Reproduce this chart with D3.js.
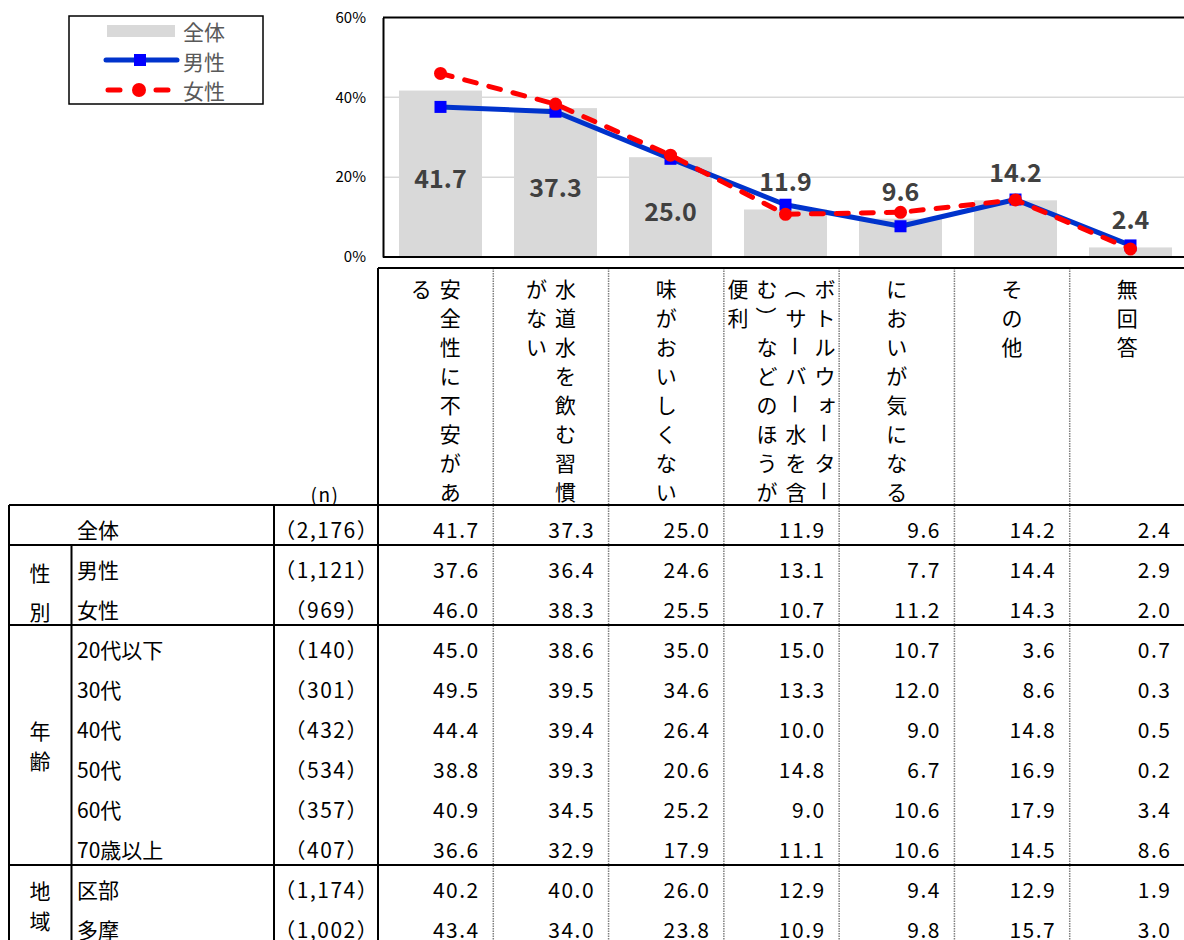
<!DOCTYPE html>
<html><head><meta charset="utf-8">
<script src="https://cdn.jsdelivr.net/npm/d3@7"></script>
<style>
html,body{margin:0;padding:0;background:#fff;}
svg{display:block;}
text{font-family:"Noto Sans CJK JP","Noto Sans",sans-serif;}
</style></head>
<body>
<svg id="chart" width="1184" height="940"></svg>
<script>
// ---------- data ----------
const categories = ["安全性に不安がある","水道水を飲む習慣がない","味がおいしくない","ボトルウォーター（サーバー水を含む）などのほうが便利","においが気になる","その他","無回答"];
const totalValues = [41.7,37.3,25.0,11.9,9.6,14.2,2.4];
const maleValues  = [37.6,36.4,24.6,13.1,7.7,14.4,2.9];
const femaleValues= [46.0,38.3,25.5,10.7,11.2,14.3,2.0];
const yTicks = [0,20,40,60];
const seriesNames = ["全体","男性","女性"];

const rowLabels = ["全体","男性","女性","20代以下","30代","40代","50代","60代","70歳以上","区部","多摩"];
const rowN = ["（2,176）","（1,121）","（969）","（140）","（301）","（432）","（534）","（357）","（407）","（1,174）","（1,002）"];
const tableValues = [
  [41.7,37.3,25.0,11.9,9.6,14.2,2.4],
  [37.6,36.4,24.6,13.1,7.7,14.4,2.9],
  [46.0,38.3,25.5,10.7,11.2,14.3,2.0],
  [45.0,38.6,35.0,15.0,10.7,3.6,0.7],
  [49.5,39.5,34.6,13.3,12.0,8.6,0.3],
  [44.4,39.4,26.4,10.0,9.0,14.8,0.5],
  [38.8,39.3,20.6,14.8,6.7,16.9,0.2],
  [40.9,34.5,25.2,9.0,10.6,17.9,3.4],
  [36.6,32.9,17.9,11.1,10.6,14.5,8.6],
  [40.2,40.0,26.0,12.9,9.4,12.9,1.9],
  [43.4,34.0,23.8,10.9,9.8,15.7,3.0]
];
const groupLabels = ["","性別","年齢","地域"];
const groupSizes  = [1,2,6,2];

// ---------- layout ----------
const svg = d3.select("#chart");
const plotL = 383, plotR = 1188, plotT = 17.5, plotB = 257;
const x = d3.scaleBand().domain(categories).range([plotL, plotR]).paddingInner(0.278).paddingOuter(0.139);
const y = d3.scaleLinear().domain([0,60]).range([plotB, plotT]);

const colX = d3.scaleBand().domain(categories).range([378, 1185]);
const rowY = d3.scaleBand().domain(d3.range(rowLabels.length)).range([505, 505 + 40*rowLabels.length]);

const BAR = "#d9d9d9", MALE_LINE = "#0033cc", MALE_MK = "#0000ff", FEMALE = "#ff0000";

// gridlines
svg.append("g").selectAll("line").data(yTicks.filter(d => d > 0 && d < 60)).join("line")
  .attr("x1", plotL).attr("x2", plotR).attr("y1", d => y(d)).attr("y2", d => y(d))
  .attr("stroke", "#d9d9d9").attr("stroke-width", 1.5);

// bars
svg.append("g").selectAll("rect").data(totalValues).join("rect")
  .attr("x", (d,i) => x(categories[i])).attr("width", x.bandwidth())
  .attr("y", d => y(d)).attr("height", d => plotB - y(d))
  .attr("fill", BAR);

// plot frame
svg.append("line").attr("x1", plotL).attr("x2", plotR).attr("y1", plotT).attr("y2", plotT).attr("stroke", "#000").attr("stroke-width", 2);
svg.append("line").attr("x1", plotL).attr("x2", plotR).attr("y1", plotB).attr("y2", plotB).attr("stroke", "#000").attr("stroke-width", 2);

// y axis
const yAxis = svg.append("g").attr("transform", `translate(${plotL},0)`)
  .call(d3.axisLeft(y).tickValues(yTicks).tickFormat(d => d + "%").tickSize(0).tickSizeOuter(0).tickPadding(17));
yAxis.select(".domain").attr("stroke", "#000").attr("stroke-width", 2);
yAxis.selectAll("text").attr("font-family", "'Liberation Sans',Arial,sans-serif").attr("font-size", 15).attr("fill", "#000");

// data labels
svg.append("g").selectAll("text").data(totalValues).join("text")
  .attr("x", (d,i) => x(categories[i]) + x.bandwidth()/2)
  .attr("y", d => d >= 20 ? (y(d) + plotB)/2 + 3 : y(d) - 29)
  .attr("text-anchor", "middle").attr("dominant-baseline", "central")
  .attr("font-size", 25).attr("font-weight", "bold").attr("fill", "#404040")
  .text(d => d.toFixed(1));

// lines
function drawSeries(vals, color, mkColor, dashed, shape) {
  const pts = vals.map((v,i) => [x(categories[i]) + x.bandwidth()/2, y(v)]);
  svg.append("path").attr("d", d3.line()(pts)).attr("fill", "none")
    .attr("stroke", color).attr("stroke-width", 5)
    .attr("stroke-linecap", dashed ? "round" : "butt").attr("stroke-linejoin", "round")
    .attr("stroke-dasharray", dashed ? "12,13" : null);
  const g = svg.append("g");
  if (shape === "square") {
    g.selectAll("rect").data(pts).join("rect")
      .attr("x", d => d[0]-6).attr("y", d => d[1]-6).attr("width", 12).attr("height", 12).attr("fill", mkColor);
  } else {
    g.selectAll("circle").data(pts).join("circle")
      .attr("cx", d => d[0]).attr("cy", d => d[1]).attr("r", 6.5).attr("fill", mkColor);
  }
}
drawSeries(maleValues, MALE_LINE, MALE_MK, false, "square");
drawSeries(femaleValues, FEMALE, FEMALE, true, "circle");

// legend
const lg = svg.append("g");
lg.append("rect").attr("x", 69).attr("y", 16).attr("width", 194).attr("height", 88)
  .attr("fill", "#fff").attr("stroke", "#000").attr("stroke-width", 1.5);
lg.append("rect").attr("x", 107).attr("y", 25).attr("width", 68).attr("height", 12).attr("fill", BAR);
lg.append("line").attr("x1", 106).attr("x2", 177).attr("y1", 60).attr("y2", 60)
  .attr("stroke", MALE_LINE).attr("stroke-width", 5).attr("stroke-linecap", "round");
lg.append("rect").attr("x", 134).attr("y", 54).attr("width", 12).attr("height", 12).attr("fill", MALE_MK);
lg.append("line").attr("x1", 108).attr("x2", 170).attr("y1", 90).attr("y2", 90)
  .attr("stroke", FEMALE).attr("stroke-width", 5).attr("stroke-linecap", "round").attr("stroke-dasharray", "12,36");
lg.append("circle").attr("cx", 139).attr("cy", 90).attr("r", 7).attr("fill", FEMALE);
lg.selectAll("text.lt").data(seriesNames).join("text").attr("class", "lt")
  .attr("x", 183).attr("y", (d,i) => 31 + i*29.5).attr("dominant-baseline", "central")
  .attr("font-size", 21).attr("fill", "#595959").text(d => d);

// ---------- table ----------
const T = svg.append("g");
const tLeft = 9, tRight = 1185, tTop = 505, tBottom = 505 + 40*rowLabels.length;
const hTop = 268;
const LS = 1.5; // letter spacing for numbers

// header vertical text
const rotChars = "ー（）";
const smallKana = "ァィゥェォッャュョ";
categories.forEach((cat, ci) => {
  const chars = Array.from(cat);
  const cols = [];
  for (let k = 0; k < chars.length; k += 8) cols.push(chars.slice(k, k+8));
  const cx = colX(cat) + colX.bandwidth()/2;
  cols.forEach((col, j) => {
    const px = cx + (cols.length-1)/2*29 - j*29;
    col.forEach((ch, k) => {
      const py = 288 + k*29;
      const t = T.append("text").attr("text-anchor", "middle").attr("dominant-baseline", "central")
        .attr("font-size", 21).attr("fill", "#000").text(ch);
      if (rotChars.includes(ch)) {
        t.attr("x", 0).attr("y", 0).attr("transform", `translate(${px},${py}) rotate(90)`);
      } else if (smallKana.includes(ch)) {
        t.attr("x", px + 2).attr("y", py - 2);
      } else {
        t.attr("x", px).attr("y", py);
      }
    });
  });
});

T.append("text").attr("x", 325).attr("y", 493).attr("text-anchor", "middle").attr("dominant-baseline", "central")
  .attr("font-size", 19).attr("letter-spacing", 1.5).attr("fill", "#000").text("(n)");

// group labels
let acc = 0;
groupLabels.forEach((gl, gi) => {
  const start = acc; acc += groupSizes[gi];
  if (!gl) return;
  const top = rowY(start), bot = rowY(start) + 40*groupSizes[gi];
  const gc = (top + bot)/2;
  const gap = gl === "性別" ? 39 : 30;
  const off = gl === "性別" ? 6 : 0;
  Array.from(gl).forEach((ch, k) => {
    T.append("text").attr("x", 40).attr("y", gc + off + (k - 0.5)*gap)
      .attr("text-anchor", "middle").attr("dominant-baseline", "central")
      .attr("font-size", 21).attr("fill", "#000").text(ch);
  });
});

// row labels, n, values
rowLabels.forEach((lab, ri) => {
  const cy = rowY(ri) + 20 + 4;
  T.append("text").attr("x", 77).attr("y", cy).attr("dominant-baseline", "central")
    .attr("font-size", 21).attr("fill", "#000").text(lab);
  T.append("text").attr("x", 326 + LS/2).attr("y", cy).attr("text-anchor", "middle").attr("dominant-baseline", "central")
    .attr("font-size", 21).attr("letter-spacing", LS).attr("fill", "#000").text(rowN[ri]);
  tableValues[ri].forEach((v, ci) => {
    T.append("text").attr("x", colX(categories[ci]) + colX.bandwidth() - 15 + LS).attr("y", cy)
      .attr("text-anchor", "end").attr("dominant-baseline", "central")
      .attr("font-size", 21).attr("letter-spacing", LS).attr("fill", "#000").text(v.toFixed(1));
  });
});

// dotted column lines
T.selectAll("line.dot").data(categories.slice(1)).join("line").attr("class", "dot")
  .attr("x1", d => colX(d)).attr("x2", d => colX(d)).attr("y1", hTop).attr("y2", tBottom)
  .attr("stroke", "#7f7f7f").attr("stroke-width", 1.5).attr("stroke-dasharray", "1.5,1");

// solid lines
const solid = (x1,y1,x2,y2) => T.append("line").attr("x1",x1).attr("y1",y1).attr("x2",x2).attr("y2",y2)
  .attr("stroke","#000").attr("stroke-width",2);
solid(378, hTop, tRight, hTop);
solid(378, hTop, 378, tBottom);
solid(tLeft, tTop, tRight, tTop);
let acc2 = 0;
groupSizes.forEach((s, gi) => { acc2 += s; if (acc2 < rowLabels.length) solid(tLeft, rowY(acc2), tRight, rowY(acc2)); });
solid(tLeft, tTop, tLeft, tBottom);
solid(71.5, rowY(1), 71.5, tBottom);
solid(274, tTop, 274, tBottom);
</script>
</body></html>
